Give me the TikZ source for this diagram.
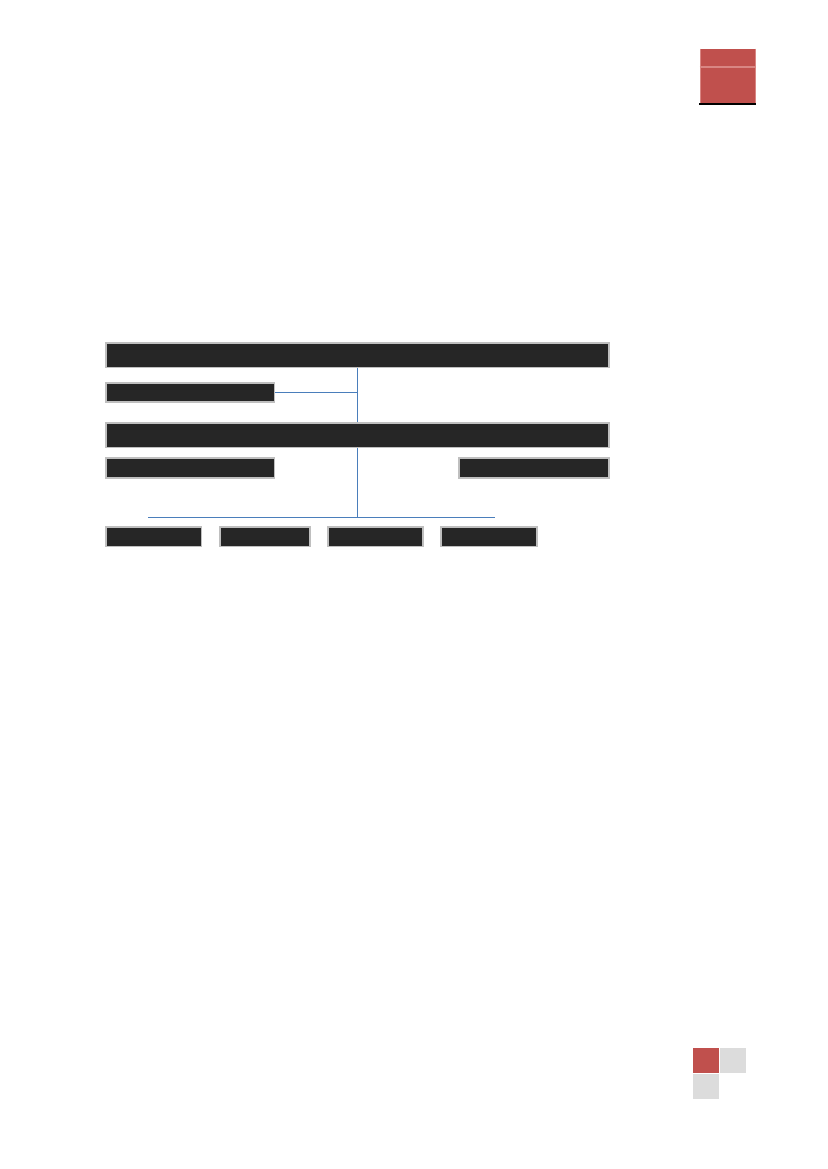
\documentclass[tikz,border=0pt]{standalone}
\usepackage{xcolor}
\definecolor{barfill}{HTML}{262626}
\definecolor{barline}{HTML}{BFBFBF}
\definecolor{linkblue}{HTML}{4A7EBB}
\definecolor{accentred}{HTML}{C0504D}
\definecolor{accentpink}{HTML}{D98683}
\definecolor{tilegray}{HTML}{DCDCDC}
\tikzset{
  bar/.style 2 args={draw=barline,fill=barfill,line width=1.1pt,inner sep=0pt,
    minimum width=#1*0.72pt,minimum height=#2*0.72pt},
  link/.style={draw=linkblue,line width=0.8pt}
}
\begin{document}
\begin{tikzpicture}[x=0.72pt,y=-0.72pt]
 \useasboundingbox (0,0) rectangle (827,1169);
 % corner marks
 \fill[accentred](699.7,48.7) rectangle (755.7,103.7);
 \draw[accentpink,line width=0.8pt](699.7,67) -- (755.7,67);
 \draw[accentpink,line width=0.8pt](700.2,48.7) -- (700.2,103.7);
 \draw[accentpink,line width=0.8pt](755.2,48.7) -- (755.2,103.7);
 \draw[black,line width=1.1pt](699.3,104.2) -- (755.7,104.2);
 \fill[accentred](692.7,1047.7) rectangle (719,1073);
 \fill[tilegray](720,1047.7) rectangle (746,1073);
 \fill[tilegray](692.7,1073.7) rectangle (719,1099);
 % boxes
 \node[bar={502.9}{24.3}] (topbar) at (357.6,355.4) {};
 \node[bar={168.2}{19.2}] (leftA) at (190.2,392.6) {};
 \node[bar={502.9}{24.3}] (midbar) at (357.6,435.4) {};
 \node[bar={168.2}{19.8}] (leftB) at (190.2,467.9) {};
 \node[bar={149.9}{19.8}] (rightB) at (534,467.9) {};
 \node[bar={95.5}{19.3}] (unitA) at (153.8,536.9) {};
 \node[bar={89.9}{19.3}] (unitB) at (265,536.9) {};
 \node[bar={94.9}{19.3}] (unitC) at (375.5,536.9) {};
 \node[bar={95.9}{19.3}] (unitD) at (489,536.9) {};
 % links
 \coordinate (busL) at (148.3,517.3);
 \coordinate (busR) at (495,517.3);
 \draw[link] (topbar.south) -- (midbar.north);
 \draw[link] (leftA.east) -- (leftA.east -| topbar.south);
 \draw[link] (midbar.south) -- (midbar.south |- busL);
 \draw[link] (busL) -- (busR);
\end{tikzpicture}
\end{document}
